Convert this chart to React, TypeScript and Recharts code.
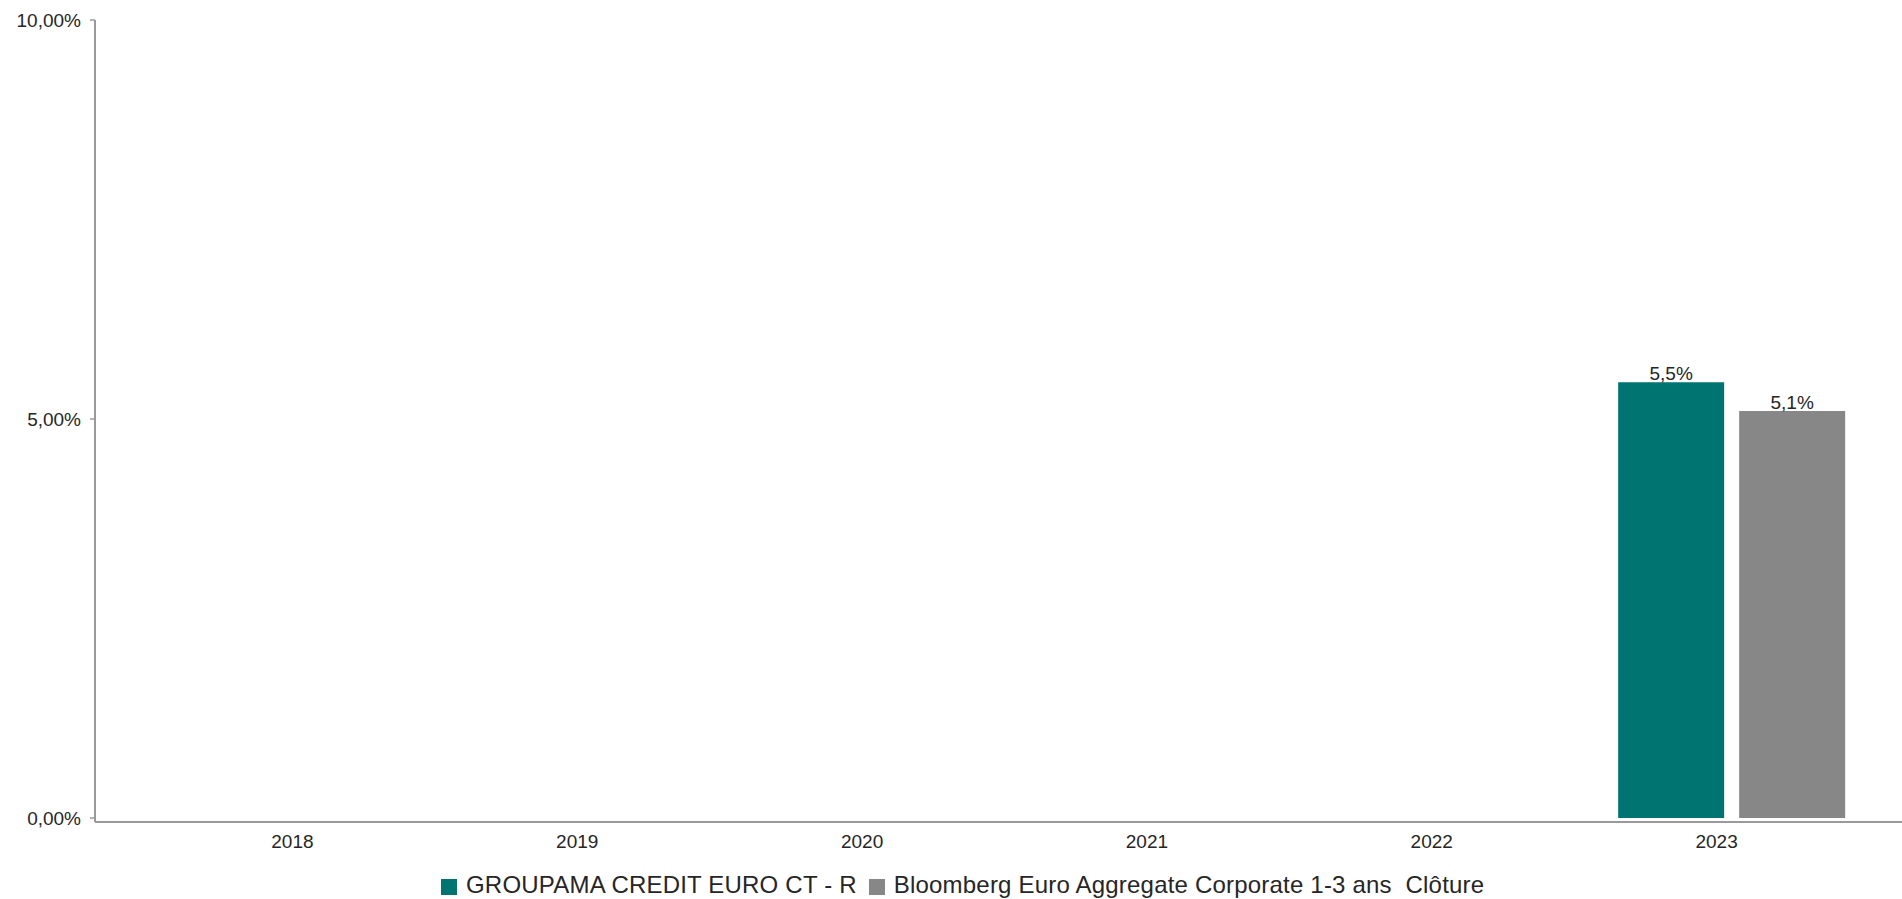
import { Bar, BarChart, LabelList, Legend, XAxis, YAxis } from "recharts";

const YEARS = ["2018", "2019", "2020", "2021", "2022", "2023"];
const FUND = [null, null, null, null, null, 5.46];
const BENCH = [null, null, null, null, null, 5.1];
const Y_TICKS = [0, 5, 10];

const FUND_NAME = "GROUPAMA CREDIT EURO CT - R";
const BENCH_NAME = "Bloomberg Euro Aggregate Corporate 1-3 ans  Clôture";

const TEAL = "#007471";
const GREY = "#878787";
const AXIS = "#9a9a9a";
const TEXT = "#262626";
const FONT = "'Liberation Sans', Arial, sans-serif";

const data = YEARS.map((year, i) => ({ year, fund: FUND[i], bench: BENCH[i] }));

const pct = (v: number) => v.toFixed(2).replace(".", ",") + "%";
const barLabel = (v: unknown) =>
  v == null ? "" : Number(v).toFixed(1).replace(".", ",") + "%";

function LegendBox() {
  const items = [
    { name: FUND_NAME, color: TEAL },
    { name: BENCH_NAME, color: GREY },
  ];
  return (
    <div
      style={{
        display: "flex",
        alignItems: "center",
        height: 24,
        lineHeight: "24px",
        paddingLeft: 441,
        fontFamily: FONT,
        fontSize: 24,
        letterSpacing: 0.2,
        color: TEXT,
        whiteSpace: "pre",
      }}
    >
      {items.map((it) => (
        <span
          key={it.name}
          style={{ display: "flex", alignItems: "center", marginRight: 12 }}
        >
          <span
            style={{
              width: 16,
              height: 16,
              background: it.color,
              marginRight: 9,
              marginTop: 3,
              display: "inline-block",
            }}
          />
          {it.name}
        </span>
      ))}
    </div>
  );
}

export default function App() {
  return (
    <div style={{ width: 1902, height: 899, overflow: "hidden" }}>
      <style>{`body{margin:0;overflow:hidden;}`}</style>
      <BarChart
        width={1902}
        height={899}
        data={data}
        margin={{ top: 20, right: 0, left: 0, bottom: 13 }}
        barGap={15}
        style={{ fontFamily: FONT }}
      >
        <YAxis
          width={95}
          domain={[-0.05, 10]}
          ticks={Y_TICKS}
          tickFormatter={pct}
          tickSize={5}
          tickMargin={9}
          axisLine={{ stroke: AXIS, strokeWidth: 2 }}
          tickLine={{ stroke: AXIS, strokeWidth: 1.5 }}
          tick={{ fill: TEXT, fontSize: 19, fontFamily: FONT }}
          allowDataOverflow
        />
        <XAxis
          dataKey="year"
          height={40}
          padding={{ left: 70, right: 28 }}
          tickLine={false}
          tickSize={0}
          tickMargin={13}
          axisLine={{ stroke: AXIS, strokeWidth: 2 }}
          tick={{ fill: TEXT, fontSize: 19, fontFamily: FONT, dx: -15 }}
        />
        <Legend
          verticalAlign="bottom"
          content={() => <LegendBox />}
          wrapperStyle={{ left: 0, top: 873, bottom: "auto", width: 1902 }}
        />
        <Bar
          dataKey="fund"
          name={FUND_NAME}
          fill={TEAL}
          barSize={106}
          isAnimationActive={false}
        >
          <LabelList
            dataKey="fund"
            position="top"
            offset={2}
            formatter={barLabel}
            style={{ fill: TEXT, fontSize: 19, fontFamily: FONT }}
          />
        </Bar>
        <Bar
          dataKey="bench"
          name={BENCH_NAME}
          fill={GREY}
          barSize={106}
          isAnimationActive={false}
        >
          <LabelList
            dataKey="bench"
            position="top"
            offset={2}
            formatter={barLabel}
            style={{ fill: TEXT, fontSize: 19, fontFamily: FONT }}
          />
        </Bar>
      </BarChart>
    </div>
  );
}
